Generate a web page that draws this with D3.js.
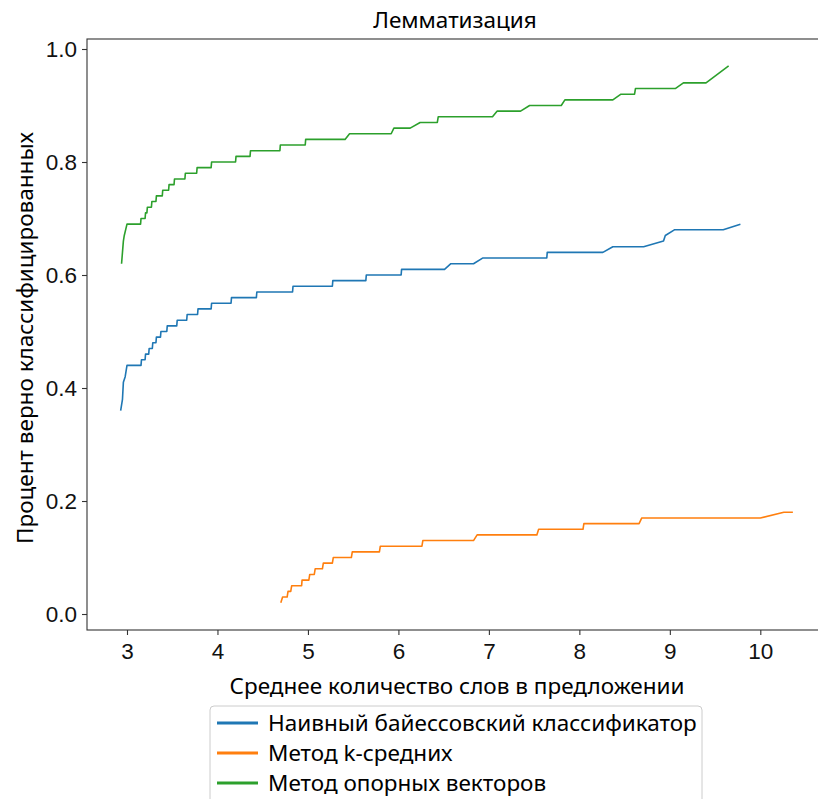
<!DOCTYPE html>
<html lang="ru">
<head>
<meta charset="UTF-8">
<title>Лемматизация</title>
<script src="https://d3js.org/d3.v7.min.js"></script>
<style>
  body { margin: 0; background: #fff; }
  svg { display: block; font-family: "Noto Sans", "DejaVu Sans", sans-serif; }
  .series { fill: none; stroke-width: 1.6; stroke-linejoin: round; }
  .axis text { font-size: 22.5px; fill: #111; }
  .axis path, .axis line { stroke: #333; stroke-width: 1.1; }
</style>
</head>
<body>
<svg id="chart" width="818" height="799"></svg>
<script>
// series labels and colours
const seriesNames = ['Наивный байессовский классификатор', 'Метод k-средних', 'Метод опорных векторов'];
const seriesColors = ['#1f77b4', '#ff7f0e', '#2ca02c'];

// naive bayes
const bayesX = [2.93, 2.95, 2.96, 2.98, 3.00, 3.155, 3.16, 3.20, 3.205, 3.24, 3.245, 3.28, 3.285, 3.32, 3.325, 3.37, 3.375,
  3.44, 3.445, 3.55, 3.555, 3.66, 3.665, 3.78, 3.785, 3.93, 3.935, 4.15, 4.155, 4.43, 4.435, 4.83, 4.835, 5.27, 5.275,
  5.64, 5.645, 6.03, 6.035, 6.51, 6.58, 6.83, 6.93, 7.64, 7.645, 8.26, 8.37, 8.71, 8.93, 8.95, 9.05, 9.59, 9.78];
const bayesY = [0.36, 0.38, 0.41, 0.42, 0.44, 0.44, 0.45, 0.45, 0.46, 0.46, 0.47, 0.47, 0.48, 0.48, 0.49, 0.49, 0.50,
  0.50, 0.51, 0.51, 0.52, 0.52, 0.53, 0.53, 0.54, 0.54, 0.55, 0.55, 0.56, 0.56, 0.57, 0.57, 0.58, 0.58, 0.59,
  0.59, 0.60, 0.60, 0.61, 0.61, 0.62, 0.62, 0.63, 0.63, 0.64, 0.64, 0.65, 0.65, 0.66, 0.67, 0.68, 0.68, 0.69];

// k-means
const kmeansX = [4.70, 4.72, 4.77, 4.78, 4.81, 4.82, 4.93, 4.935, 5.01, 5.02, 5.07, 5.08, 5.16, 5.17, 5.27, 5.28,
  5.48, 5.49, 5.79, 5.80, 6.26, 6.27, 6.83, 6.87, 7.53, 7.55, 8.04, 8.05, 8.66, 8.69, 10.00, 10.26, 10.36];
const kmeansY = [0.02, 0.03, 0.03, 0.04, 0.04, 0.05, 0.05, 0.06, 0.06, 0.07, 0.07, 0.08, 0.08, 0.09, 0.09, 0.10,
  0.10, 0.11, 0.11, 0.12, 0.12, 0.13, 0.13, 0.14, 0.14, 0.15, 0.15, 0.16, 0.16, 0.17, 0.17, 0.18, 0.18];

// svm
const svmX = [2.94, 2.95, 2.96, 2.97, 3.00, 3.15, 3.155, 3.20, 3.205, 3.22, 3.225, 3.27, 3.275, 3.32, 3.325, 3.39, 3.395,
  3.46, 3.465, 3.52, 3.525, 3.64, 3.645, 3.77, 3.775, 3.93, 3.935, 4.20, 4.205, 4.36, 4.365, 4.69, 4.695, 4.97, 4.975,
  5.41, 5.46, 5.92, 5.95, 6.13, 6.24, 6.43, 6.44, 7.04, 7.09, 7.35, 7.45, 7.80, 7.84, 8.37, 8.46, 8.61, 8.62,
  9.06, 9.15, 9.40, 9.65];
const svmY = [0.62, 0.64, 0.66, 0.67, 0.69, 0.69, 0.70, 0.70, 0.71, 0.71, 0.72, 0.72, 0.73, 0.73, 0.74, 0.74, 0.75,
  0.75, 0.76, 0.76, 0.77, 0.77, 0.78, 0.78, 0.79, 0.79, 0.80, 0.80, 0.81, 0.81, 0.82, 0.82, 0.83, 0.83, 0.84,
  0.84, 0.85, 0.85, 0.86, 0.86, 0.87, 0.87, 0.88, 0.88, 0.89, 0.89, 0.90, 0.90, 0.91, 0.91, 0.92, 0.92, 0.93,
  0.93, 0.94, 0.94, 0.97];

const xTicks = [3, 4, 5, 6, 7, 8, 9, 10];
const yTicks = [0.0, 0.2, 0.4, 0.6, 0.8, 1.0];

const svg = d3.select('#chart');
const plot = { left: 87, right: 825, top: 39, bottom: 630 };

const x = d3.scaleLinear().domain([2.558, 10.715]).range([plot.left, plot.right]);
const y = d3.scaleLinear().domain([-0.0283, 1.0177]).range([plot.bottom, plot.top]);

// frame
svg.append('rect')
  .attr('x', plot.left).attr('y', plot.top)
  .attr('width', plot.right - plot.left).attr('height', plot.bottom - plot.top)
  .attr('fill', 'none').attr('stroke', '#333').attr('stroke-width', 1.1);

svg.append('g')
  .attr('class', 'axis')
  .attr('transform', `translate(0,${plot.bottom})`)
  .call(d3.axisBottom(x).tickValues(xTicks).tickSize(5).tickPadding(8).tickFormat(d3.format('d')))
  .call(g => g.select('.domain').remove());

svg.append('g')
  .attr('class', 'axis')
  .attr('transform', `translate(${plot.left},0)`)
  .call(d3.axisLeft(y).tickValues(yTicks).tickSize(5).tickPadding(5).tickFormat(d3.format('.1f')))
  .call(g => g.select('.domain').remove());

// lines
const line = d3.line().x(d => x(d[0])).y(d => y(d[1]));
const series = [
  d3.zip(bayesX, bayesY),
  d3.zip(kmeansX, kmeansY),
  d3.zip(svmX, svmY)
];
series.forEach((pts, i) => {
  svg.append('path')
    .attr('class', 'series')
    .attr('d', line(pts))
    .attr('stroke', seriesColors[i]);
});

// title and axis labels
svg.append('text')
  .attr('x', 455).attr('y', 28)
  .attr('text-anchor', 'middle')
  .attr('font-size', 22.5)
  .text('Лемматизация');

svg.append('text')
  .attr('x', 457).attr('y', 694)
  .attr('text-anchor', 'middle')
  .attr('font-size', 22.5)
  .text('Среднее количество слов в предложении');

svg.append('text')
  .attr('transform', 'translate(33,338) rotate(-90)')
  .attr('text-anchor', 'middle')
  .attr('font-size', 22.5)
  .text('Процент верно классифицированных');

// legend
const legend = svg.append('g').attr('transform', 'translate(210,706)');
legend.append('rect')
  .attr('x', 0).attr('y', 0)
  .attr('width', 492).attr('height', 110)
  .attr('rx', 4)
  .attr('fill', '#fff').attr('stroke', '#ccc').attr('stroke-width', 1);

seriesNames.forEach((name, i) => {
  const ly = 17 + i * 30;
  legend.append('line')
    .attr('x1', 7).attr('x2', 48)
    .attr('y1', ly).attr('y2', ly)
    .attr('stroke', seriesColors[i]).attr('stroke-width', 3);
  legend.append('text')
    .attr('x', 58).attr('y', ly + 8)
    .attr('font-size', 22.5)
    .text(name);
});
</script>
</body>
</html>
